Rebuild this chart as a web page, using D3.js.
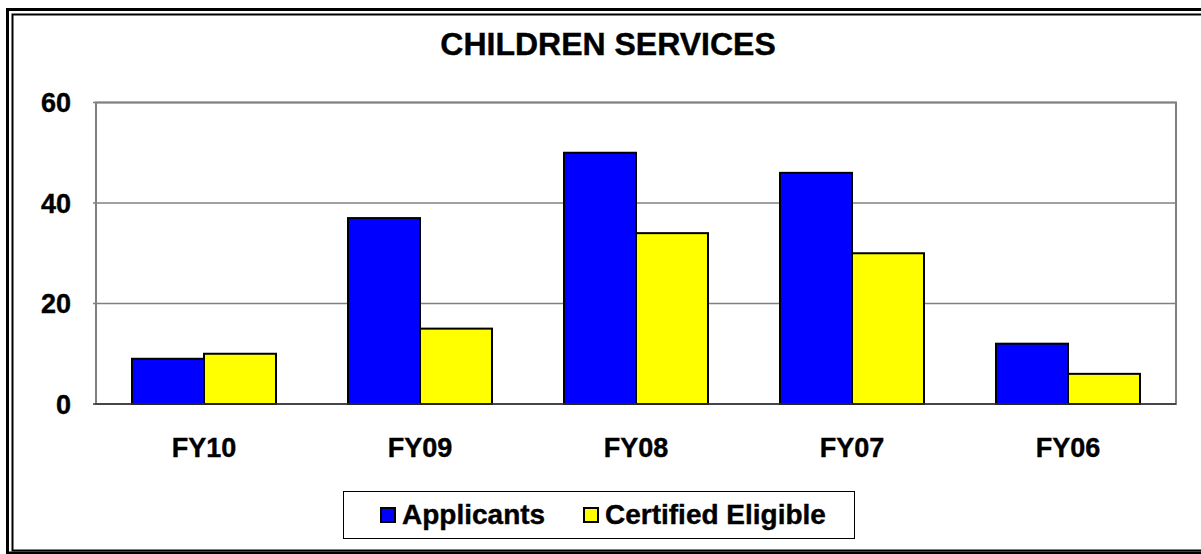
<!DOCTYPE html>
<html>
<head>
<meta charset="utf-8">
<script src="https://cdn.jsdelivr.net/npm/d3@7"></script>
<style>
  html, body { margin: 0; padding: 0; background: #fff; overflow: hidden; }
  svg { display: block; font-family: "Liberation Sans", Arial, sans-serif; font-weight: bold; }
</style>
</head>
<body>
<div id="chart"></div>
<script>
// chart data
var title = "CHILDREN SERVICES";
var years = ["FY10", "FY09", "FY08", "FY07", "FY06"];
var seriesNames = ["Applicants", "Certified Eligible"];
var applicants = [9, 37, 50, 46, 12];
var certified = [10, 15, 34, 30, 6];
var yTicks = [0, 20, 40, 60];
var colours = ["#0000ff", "#ffff00"];

(function() {
  var width = 1201, height = 554;
  var plot = { left: 96, right: 1176, top: 102.5, bottom: 404 };

  var svg = d3.select("#chart").append("svg")
    .attr("width", width).attr("height", height);

  // double frame, runs off the right and bottom edge like the original
  svg.append("rect").attr("x", 7.5).attr("y", 9.5)
    .attr("width", 1210).attr("height", 543.5)
    .attr("fill", "none").attr("stroke", "#000").attr("stroke-width", 3);
  svg.append("rect").attr("x", 12.5).attr("y", 14.5)
    .attr("width", 1210).attr("height", 536)
    .attr("fill", "none").attr("stroke", "#000").attr("stroke-width", 2);

  svg.append("text").attr("x", 608).attr("y", 55)
    .attr("text-anchor", "middle").attr("font-size", 32)
    .attr("stroke", "#000").attr("stroke-width", 0.4)
    .text(title);

  var x = d3.scaleBand().domain(years).range([plot.left, plot.right]);
  var xs = d3.scaleBand().domain(seriesNames).range([0, x.bandwidth()]).paddingOuter(0.5);
  var y = d3.scaleLinear().domain([0, 60]).range([plot.bottom, plot.top]);

  // gridlines
  svg.append("g").selectAll("line").data(yTicks.filter(function(d) { return d > 0; }))
    .enter().append("line")
    .attr("x1", plot.left - 3).attr("x2", plot.right)
    .attr("y1", function(d) { return y(d); }).attr("y2", function(d) { return y(d); })
    .attr("stroke", "#808080").attr("stroke-width", 1.5);

  // plot frame
  svg.append("rect").attr("x", plot.left).attr("y", plot.top)
    .attr("width", plot.right - plot.left).attr("height", plot.bottom - plot.top)
    .attr("fill", "none").attr("stroke", "#808080").attr("stroke-width", 2);

  var rows = years.map(function(yr, i) {
    return { year: yr, values: [applicants[i], certified[i]] };
  });

  var groups = svg.append("g").selectAll("g").data(rows).enter().append("g")
    .attr("transform", function(d) { return "translate(" + x(d.year) + ",0)"; });

  groups.selectAll("rect").data(function(d) {
    return d.values.map(function(v, j) { return { name: seriesNames[j], value: v, j: j }; });
  }).enter().append("rect")
    .attr("x", function(d) { return xs(d.name); })
    .attr("width", xs.bandwidth())
    .attr("y", function(d) { return y(d.value); })
    .attr("height", function(d) { return y(0) - y(d.value); })
    .attr("fill", function(d) { return colours[d.j]; })
    .attr("stroke", "#000").attr("stroke-width", 2);

  // x axis line
  svg.append("line").attr("x1", plot.left - 3).attr("x2", plot.right)
    .attr("y1", plot.bottom).attr("y2", plot.bottom)
    .attr("stroke", "#333").attr("stroke-width", 1.5);

  // y tick labels
  svg.append("g").selectAll("text").data(yTicks).enter().append("text")
    .attr("x", 71).attr("y", function(d) { return y(d); })
    .attr("dy", "0.36em").attr("text-anchor", "end").attr("font-size", 27)
    .attr("stroke", "#000").attr("stroke-width", 0.4)
    .text(function(d) { return d; });

  // x labels
  svg.append("g").selectAll("text").data(years).enter().append("text")
    .attr("x", function(d) { return x(d) + x.bandwidth() / 2; })
    .attr("y", 457).attr("text-anchor", "middle").attr("font-size", 27)
    .attr("stroke", "#000").attr("stroke-width", 0.4)
    .text(function(d) { return d; });

  // legend
  var legend = svg.append("g");
  legend.append("rect").attr("x", 343.5).attr("y", 491.5)
    .attr("width", 511).attr("height", 47)
    .attr("fill", "#fff").attr("stroke", "#000").attr("stroke-width", 1);
  var legendX = [380, 583];
  var items = legend.selectAll("g").data(seriesNames).enter().append("g")
    .attr("transform", function(d, i) { return "translate(" + legendX[i] + ",0)"; });
  items.append("rect").attr("x", 1).attr("y", 508)
    .attr("width", 14).attr("height", 14)
    .attr("fill", function(d, i) { return colours[i]; })
    .attr("stroke", "#000").attr("stroke-width", 2);
  items.append("text").attr("x", 22).attr("y", 524).attr("font-size", 28)
    .attr("stroke", "#000").attr("stroke-width", 0.4)
    .text(function(d) { return d; });
})();
</script>
</body>
</html>
